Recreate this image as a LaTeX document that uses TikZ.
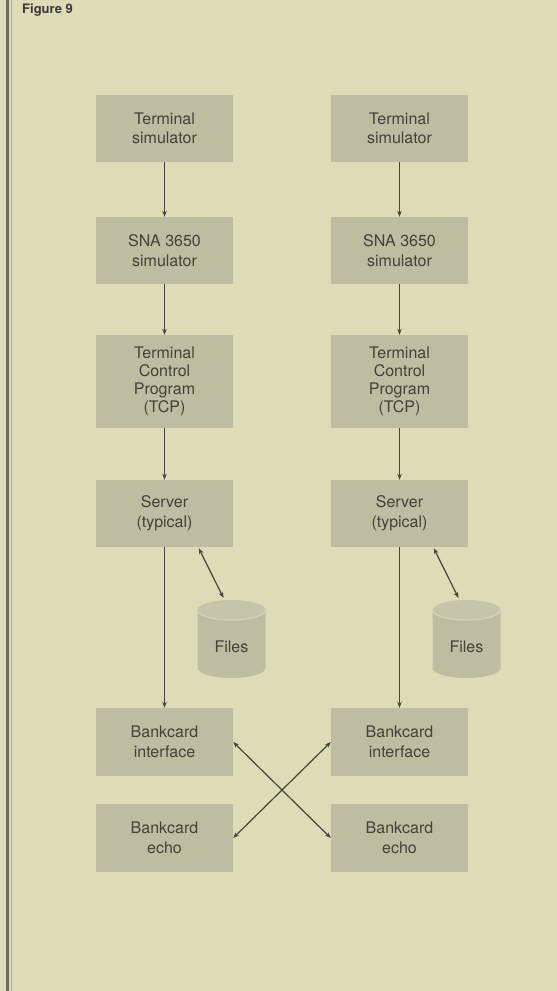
\documentclass[tikz,border=0pt]{standalone}
\usepackage{fontspec}
\setmainfont{TeX Gyre Heros}
\usetikzlibrary{arrows.meta,calc}
\definecolor{bg}{HTML}{DDDCB6}
\definecolor{boxc}{HTML}{BEBCA1}
\definecolor{cyltop}{HTML}{C6C5AA}
\definecolor{rim}{HTML}{D3D2BA}
\definecolor{txt}{HTML}{42413A}
\definecolor{ln}{HTML}{45453C}
\definecolor{margin}{HTML}{6C6C60}
\begin{document}
\begin{tikzpicture}[x=1pt,y=-1pt,
  blk/.style={fill=boxc, minimum width=137pt, inner sep=0pt, align=center, text=txt,
    font=\fontsize{16}{19.5}\selectfont},
  conn/.style={draw=ln, line width=1.2pt, -{Stealth[length=6pt,width=4.5pt]}},
  dconn/.style={draw=ln, line width=1.2pt, {Stealth[length=6pt,width=4.5pt]}-{Stealth[length=6pt,width=4.5pt]}},
  lbl/.style={text=txt, font=\fontsize{16}{19.5}\selectfont, inner sep=0pt}]
\useasboundingbox (0,0) rectangle (557,991);
\clip (0,0) rectangle (557,991);
\fill[bg] (0,0) rectangle (557,991);
% margin rule
\draw[margin, line width=2.4pt] (7.5,0) -- (7.5,991);
\draw[margin!40!bg, line width=1pt] (11,0) -- (11,991);
% heading
\node[anchor=base west, text=txt!90!black, font=\bfseries\fontsize{13}{15}\selectfont, inner sep=0pt] (fig) at (22,13) {Figure 9};

% left column
\node[blk, minimum height=67pt] (tsL)  at (164.5,128.5) {Terminal\\simulator};
\node[blk, minimum height=67pt] (snaL) at (164.5,250.5) {SNA 3650\\simulator};
\node[blk, minimum height=93pt, font=\fontsize{16}{18}\selectfont] (tcpL) at (164.5,381.5) {Terminal\\Control\\Program\\(TCP)};
\node[blk, minimum height=67pt] (srvL) at (164.5,513.5) {Server\\(typical)};
\node[blk, minimum height=68pt] (biL)  at (164.5,742) {Bankcard\\interface};
\node[blk, minimum height=68pt] (beL)  at (164.5,838) {Bankcard\\echo};
% right column
\node[blk, minimum height=67pt] (tsR)  at (399.5,128.5) {Terminal\\simulator};
\node[blk, minimum height=67pt] (snaR) at (399.5,250.5) {SNA 3650\\simulator};
\node[blk, minimum height=93pt, font=\fontsize{16}{18}\selectfont] (tcpR) at (399.5,381.5) {Terminal\\Control\\Program\\(TCP)};
\node[blk, minimum height=67pt] (srvR) at (399.5,513.5) {Server\\(typical)};
\node[blk, minimum height=68pt] (biR)  at (399.5,742) {Bankcard\\interface};
\node[blk, minimum height=68pt] (beR)  at (399.5,838) {Bankcard\\echo};

% cylinders
\foreach \nm/\cx in {L/231.5, R/466.5}{
  \fill[boxc] (\cx-34,610) -- (\cx-34,668) arc[start angle=180, end angle=0, x radius=34, y radius=10] -- (\cx+34,610) -- cycle;
  \fill[cyltop] (\cx,610) ellipse[x radius=34, y radius=10];
  \draw[rim, line width=1.2pt] (\cx-34,610) arc[start angle=180, end angle=0, x radius=34, y radius=10];
  \coordinate (filesTop\nm) at (\cx-8,598);
  \node[lbl] (files\nm) at (\cx,647) {Files};
}

% connectors
\draw[conn] (tsL) -- (snaL);
\draw[conn] (snaL) -- (tcpL);
\draw[conn] (tcpL) -- (srvL);
\draw[conn] (srvL) -- (biL);
\draw[conn] (tsR) -- (snaR);
\draw[conn] (snaR) -- (tcpR);
\draw[conn] (tcpR) -- (srvR);
\draw[conn] (srvR) -- (biR);
\coordinate (srvLo) at ($(srvL.south west)+(103,1)$);
\coordinate (srvRo) at ($(srvR.south west)+(103,1)$);
\draw[dconn] (srvLo) -- (filesTopL);
\draw[dconn] (srvRo) -- (filesTopR);
\draw[dconn] (biL.east) -- (beR.west);
\draw[dconn] (biR.west) -- (beL.east);
\end{tikzpicture}
\end{document}
